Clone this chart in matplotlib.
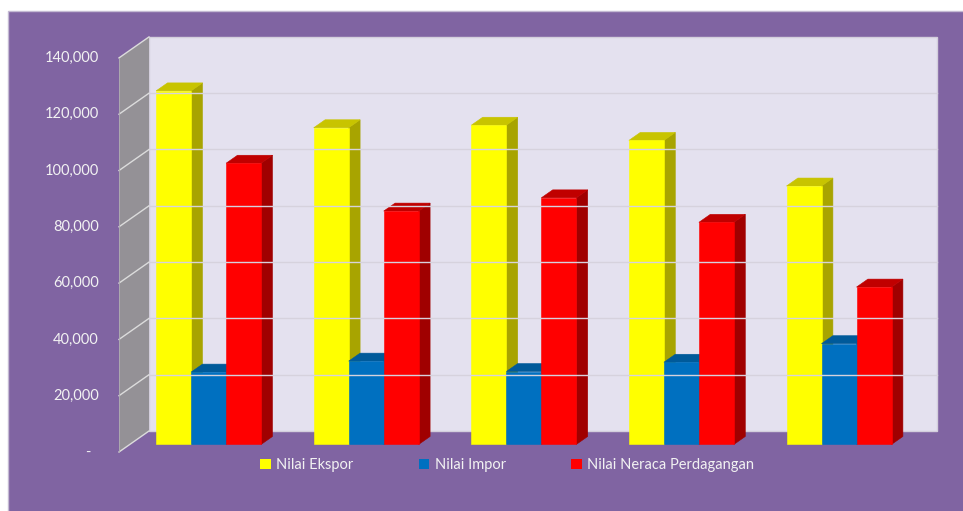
import matplotlib
matplotlib.use("Agg")
import matplotlib.pyplot as plt
from matplotlib.patches import Polygon, Rectangle, Patch

# data (no category labels shown)
periods = ["", "", "", "", ""]
nilai_ekspor = [125600, 112500, 113400, 108000, 91800]
nilai_impor = [25700, 29600, 25900, 29200, 35800]
nilai_neraca = [99900, 82900, 87600, 78900, 55900]
series_names = ["Nilai Ekspor", "Nilai Impor", "Nilai Neraca Perdagangan"]
ytick_vals = [0, 20000, 40000, 60000, 80000, 100000, 120000, 140000]
ytick_labels = ["-  ", "20,000", "40,000", "60,000", "80,000", "100,000", "120,000", "140,000"]

# colours: front, side, top
front_cols = ["#FFFF00", "#0070C0", "#FF0000"]
side_cols = ["#A8A400", "#004F88", "#A00000"]
top_cols = ["#C8C400", "#005A9A", "#C00000"]

W, H = 963, 511
X0, CAT_PX = 119.0, 157.6       # front plane left edge, px per category
Y0, PX_PER_V = 452.0, 56.3 / 20000
DX = 30 / CAT_PX                 # full depth offset in category units
DY = 21 / PX_PER_V               # full depth offset in value units
D0, D1 = 0.36, 0.74              # bar depth range
BW = 35 / CAT_PX                 # bar width
VMAX = ytick_vals[-1]
n = len(periods)
FONT = "Lato"

fig = plt.figure(figsize=(W / 100, H / 100), dpi=100, facecolor="white")
ax = fig.add_axes([0, 0, 1, 1])
ax.add_patch(Rectangle((8 / W, -0.01), 1, 1 - 11 / H + 0.01, transform=fig.transFigure,
                       facecolor="#8064A2", edgecolor="#C4BAD3", lw=1.0, zorder=-10))
ax.set_xlim(-X0 / CAT_PX, (W - X0) / CAT_PX)
ax.set_ylim((Y0 - H) / PX_PER_V, Y0 / PX_PER_V)
ax.axis("off")


def P(c, v, d):
    return (c + d * DX, v + d * DY)


# back wall
ax.add_patch(Polygon([P(0, 0, 1), P(n, 0, 1), P(n, VMAX, 1), P(0, VMAX, 1)],
                     closed=True, facecolor="#E4E1EF", edgecolor="#D3CEDC", lw=1.0))
# side wall
ax.add_patch(Polygon([P(0, 0, 0), P(0, 0, 1), P(0, VMAX, 1), P(0, VMAX, 0)],
                     closed=True, facecolor="#949196", edgecolor="none"))
for v, lab in zip(ytick_vals, ytick_labels):
    if 0 < v < VMAX:
        ax.plot(*zip(P(0, v, 1), P(n, v, 1)), color="#D6D2DD", lw=1.0)
    ax.plot(*zip(P(0, v, 0), P(0, v, 1)), color="#DCDCDC", lw=1.0)
    ax.text(-20 / CAT_PX, v, lab, ha="right", va="center", color="#F2F2F2",
            fontsize=10.5, family=FONT)
ax.plot(*zip(P(0, 0, 0), P(0, VMAX, 0)), color="#B0ADB3", lw=0.6)

# bars
all_series = [nilai_ekspor, nilai_impor, nilai_neraca]
for i in range(n):
    for j, vals in enumerate(all_series):
        x = i + 0.5 + (j - 1.5) * BW
        h = vals[i]
        side = [P(x + BW, 0, D0), P(x + BW, 0, D1), P(x + BW, h, D1), P(x + BW, h, D0)]
        top = [P(x, h, D0), P(x + BW, h, D0), P(x + BW, h, D1), P(x, h, D1)]
        front = [P(x, 0, D0), P(x + BW, 0, D0), P(x + BW, h, D0), P(x, h, D0)]
        ax.add_patch(Polygon(side, closed=True, facecolor=side_cols[j], edgecolor=side_cols[j], lw=0.4))
        ax.add_patch(Polygon(top, closed=True, facecolor=top_cols[j], edgecolor=top_cols[j], lw=0.4))
        ax.add_patch(Polygon(front, closed=True, facecolor=front_cols[j], edgecolor=front_cols[j], lw=0.4))

handles = [Patch(facecolor=c, edgecolor="none") for c in front_cols]
leg = fig.legend(handles, series_names, loc="center", bbox_to_anchor=(507 / W, 1 - 465 / H),
                 ncol=3, frameon=False, handlelength=0.75, handleheight=0.75,
                 handletextpad=0.35, columnspacing=4.5,
                 prop={"family": FONT, "size": 10.5})
for t in leg.get_texts():
    t.set_color("#F2F2F2")

fig.savefig("out.png", dpi=100, facecolor="white")
